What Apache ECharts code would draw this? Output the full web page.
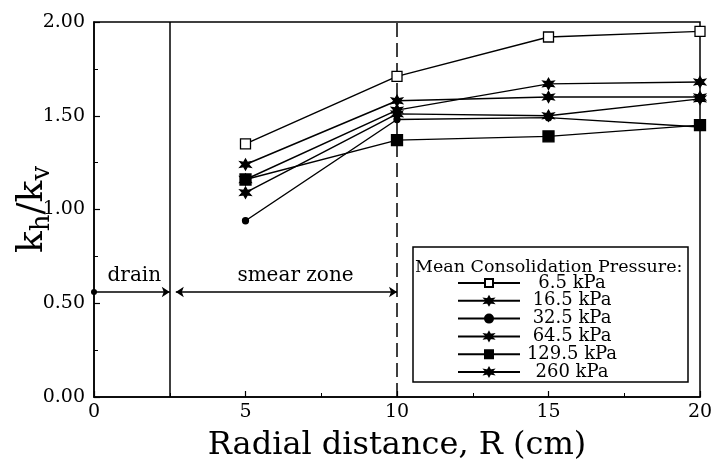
<!DOCTYPE html>
<html><head><meta charset="utf-8">
<script src="https://cdn.jsdelivr.net/npm/echarts@6/dist/echarts.min.js"></script>
<style>html,body{margin:0;padding:0;background:#fff}#c{width:713px;height:467px}</style>
</head><body><div id="c"></div>
<script>
var xValues = [5, 10, 15, 20];
var seriesNames = ['6.5 kPa', '16.5 kPa', '32.5 kPa', '64.5 kPa', '129.5 kPa', '260 kPa'];
var p6_5   = [1.35, 1.71, 1.92, 1.95];
var p16_5  = [1.16, 1.53, 1.67, 1.68];
var p32_5  = [0.94, 1.48, 1.49, 1.44];
var p64_5  = [1.09, 1.51, 1.50, 1.59];
var p129_5 = [1.16, 1.37, 1.39, 1.45];
var p260   = [1.24, 1.58, 1.60, 1.60];
var yTicks = [0, 0.5, 1.0, 1.5, 2.0];
var xTicks = [0, 5, 10, 15, 20];
var drainEdge = 2.5, smearEdge = 10, arrowY = 0.56;
var zoneLabels = ['drain', 'smear zone'];

var F = 'DejaVu Serif';
var star = 'path://M0,-10 L3,-4 L9,-5 L5,0 L9,5 L3,4 L0,10 L-3,4 L-9,5 L-5,0 L-9,-5 L-3,-4 Z';
var styles = [
  {symbol: 'rect', size: 10, fill: '#fff'},
  {symbol: star, size: 11, fill: '#000'},
  {symbol: 'circle', size: 6, fill: '#000'},
  {symbol: star, size: 11, fill: '#000'},
  {symbol: 'rect', size: 11, fill: '#000'},
  {symbol: star, size: 11, fill: '#000'}
];
var data = [p6_5, p16_5, p32_5, p64_5, p129_5, p260];
var series = data.map(function (vals, i) {
  return {
    name: seriesNames[i], type: 'line',
    data: vals.map(function (v, j) { return [xValues[j], v]; }),
    symbol: styles[i].symbol, symbolSize: styles[i].size, showAllSymbol: true,
    lineStyle: {color: '#000', width: 1.5},
    itemStyle: {color: styles[i].fill, borderColor: '#000', borderWidth: 1.3},
    z: 5 + (i === 0 ? 2 : 0)
  };
});
series.push({
  type: 'line', data: [], silent: true,
  markLine: {
    silent: true, symbol: ['none', 'none'],
    lineStyle: {color: '#000', width: 1.5, type: 'solid'},
    label: {show: false},
    data: [
      {xAxis: drainEdge},
      {xAxis: smearEdge, lineStyle: {type: [14, 6], width: 1.5}},
      [{coord: [0, arrowY], symbol: 'circle', symbolSize: 6}, {coord: [drainEdge, arrowY], symbol: 'arrow', symbolSize: 8}],
      [{coord: [drainEdge + 0.2, arrowY], symbol: 'arrow', symbolSize: 8}, {coord: [smearEdge, arrowY], symbol: 'arrow', symbolSize: 8}]
    ]
  }
});
series.push({
  type: 'line', data: [], silent: true,
  markPoint: {
    symbol: 'circle', symbolSize: 0,
    label: {show: true, color: '#000', fontFamily: F, fontSize: 20},
    data: [
      {coord: [1.33, 0.645], value: zoneLabels[0], label: {formatter: zoneLabels[0]}},
      {coord: [6.65, 0.645], value: zoneLabels[1], label: {formatter: zoneLabels[1]}}
    ]
  }
});

var chart = echarts.init(document.getElementById('c'), null, {renderer: 'canvas'});
chart.setOption({
  animation: false,
  backgroundColor: '#fff',
  grid: {left: 94, right: 13, top: 22, bottom: 70, containLabel: false, outerBoundsMode: 'none',
    show: true, borderColor: '#000', borderWidth: 1.5, backgroundColor: 'transparent'},
  title: {text: 'Mean Consolidation Pressure:', left: 410, top: 253,
    textStyle: {fontFamily: F, fontSize: 17.5, fontWeight: 'normal', color: '#000'}},
  legend: {
    data: seriesNames, orient: 'vertical', left: 413, top: 247,
    padding: [27, 69, 1, 44], itemWidth: 62, itemHeight: 10, itemGap: -0.2,
    borderColor: '#000', borderWidth: 1.5, backgroundColor: '#fff',
    formatter: function (n) { return '{a|' + n + '}'; },
    textStyle: {color: '#000', fontFamily: F, fontSize: 18, lineHeight: 17,
      rich: {a: {width: 94, align: 'center', fontFamily: F, fontSize: 18, lineHeight: 17, color: '#000'}}}
  },
  xAxis: {
    type: 'value', min: 0, max: 20, interval: 5,
    name: 'Radial distance, R (cm)', nameLocation: 'middle', nameGap: 33, nameMoveOverlap: false,
    nameTextStyle: {fontFamily: F, fontSize: 32, color: '#000'},
    axisLine: {lineStyle: {color: '#000', width: 1.5}},
    axisTick: {inside: true, length: 6, lineStyle: {color: '#000', width: 1.2}},
    minorTick: {show: true, splitNumber: 2, length: 4, lineStyle: {color: '#000'}},
    splitLine: {show: false},
    axisLabel: {fontFamily: F, fontSize: 19, color: '#000', margin: 6,
      formatter: function (v) { return xTicks.indexOf(v) >= 0 ? String(v) : ''; }}
  },
  yAxis: {
    type: 'value', min: 0, max: 2, interval: 0.5,
    name: '{k|k}{s|h}{k|/k}{s|v}', nameLocation: 'middle', nameGap: 39, nameRotate: 90, nameMoveOverlap: false,
    nameTextStyle: {fontFamily: F, color: '#000',
      rich: {k: {fontFamily: F, fontSize: 36, color: '#000'}, s: {fontFamily: F, fontSize: 26, color: '#000', padding: [18, 0, 0, 0]}}},
    axisLine: {lineStyle: {color: '#000', width: 1.5}},
    axisTick: {inside: true, length: 6, lineStyle: {color: '#000', width: 1.2}},
    minorTick: {show: true, splitNumber: 2, length: 4, lineStyle: {color: '#000'}},
    splitLine: {show: false},
    axisLabel: {fontFamily: F, fontSize: 19, color: '#000', margin: 9,
      formatter: function (v) { return yTicks.indexOf(v) >= 0 ? v.toFixed(2) : ''; }}
  },
  series: series
});
</script></body></html>
